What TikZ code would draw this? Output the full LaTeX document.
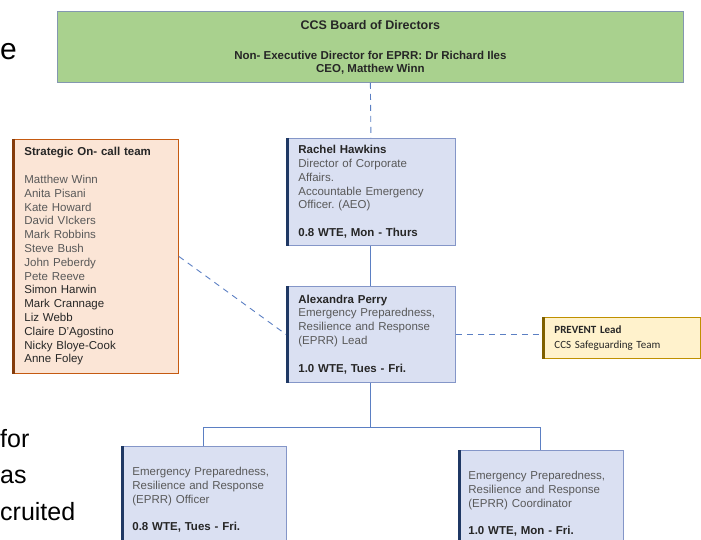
\documentclass[tikz,border=0pt]{standalone}
\usepackage{fontspec}
\setmainfont{Liberation Sans}
\newfontfamily\calibri{Carlito}
\frenchspacing

\definecolor{bluefill}{HTML}{DAE0F2}
\definecolor{blueedge}{HTML}{8496C8}
\definecolor{bluebar}{HTML}{1F3864}
\definecolor{linkblue}{HTML}{5B7FC3}
\definecolor{greenfill}{HTML}{A9D18E}
\definecolor{greenedge}{HTML}{8497B0}
\definecolor{peachfill}{HTML}{FBE5D6}
\definecolor{peachedge}{HTML}{C55A11}
\definecolor{peachbar}{HTML}{843C0C}
\definecolor{yellowfill}{HTML}{FFF2CC}
\definecolor{yellowedge}{HTML}{BF9000}
\definecolor{yellowbar}{HTML}{7F6000}
\definecolor{darktxt}{HTML}{262626}
\definecolor{greytxt}{HTML}{595959}

\begin{document}
\begin{tikzpicture}[x=1pt, y=-1pt,
    every node/.style={font=\fontsize{11.5}{13.8}\selectfont, text=greytxt},
    rolebox/.style={draw=blueedge, fill=bluefill, line width=0.8pt, anchor=north west,
        align=left, inner xsep=12pt, inner ysep=0pt, minimum height=107pt},
    linksolid/.style={draw=linkblue, line width=0.9pt},
    linkdash/.style={draw=linkblue, line width=0.9pt, dash pattern=on 6pt off 5pt},
    slidetxt/.style={anchor=base west, inner sep=0pt, text=black, font=\fontsize{25}{30}\selectfont}]
        \useasboundingbox (0,0) rectangle (701,540);

        % Slide text behind
        \node[slidetxt, font=\fontsize{30}{36}\selectfont] (sa) at (0,60) {e};
        \node[slidetxt] (sb) at (0,447) {for};
        \node[slidetxt] (sc) at (0,483) {as};
        \node[slidetxt] (sd) at (0,520) {cruited};

        % Board
        \node[draw=greenedge, fill=greenfill, line width=0.8pt, anchor=north west,
            minimum width=626pt, minimum height=71pt, align=center, text=darktxt,
            font=\bfseries\fontsize{11.5}{13}\selectfont] (board) at (57,11)
            {{\fontsize{12.5}{13}\selectfont CCS Board of Directors}\\[17pt]
             Non- Executive Director for EPRR: Dr Richard Iles\\
             CEO, Matthew Winn};

        % Roles
        \node[rolebox, text width=145pt] (rachel) at (286,138)
            {\textcolor{darktxt}{\bfseries Rachel Hawkins}\\
             Director of Corporate\\ Affairs.\\ Accountable Emergency\\ Officer. (AEO)\\[13.8pt]
             \textcolor{darktxt}{\bfseries 0.8 WTE, Mon - Thurs}};
        \node[rolebox, text width=145pt, minimum height=96pt] (alex) at (286,286)
            {\textcolor{darktxt}{\bfseries Alexandra Perry}\\
             Emergency Preparedness,\\ Resilience and Response\\ (EPRR) Lead\\[13.8pt]
             \textcolor{darktxt}{\bfseries 1.0 WTE, Tues - Fri.}};
        \node[rolebox, text width=143pt, inner xsep=11pt] (officer) at (121,446)
            {Emergency Preparedness,\\ Resilience and Response\\ (EPRR) Officer\\[13.8pt]
             \textcolor{darktxt}{\bfseries 0.8 WTE, Tues - Fri.}};
        \node[rolebox, text width=145pt, inner xsep=10pt] (coord) at (458,450)
            {Emergency Preparedness,\\ Resilience and Response\\ (EPRR) Coordinator\\[13.8pt]
             \textcolor{darktxt}{\bfseries 1.0 WTE, Mon - Fri.}};

        % On-call team
        \node[draw=peachedge, fill=peachfill, line width=0.8pt, anchor=north west,
            align=left, inner xsep=12pt, text width=142pt, minimum height=234pt] (oncall) at (12,139)
            {\textcolor{darktxt}{\bfseries Strategic On- call team}\\[13.8pt]
             Matthew Winn\\ Anita Pisani\\ Kate Howard\\ David VIckers\\ Mark Robbins\\
             Steve Bush\\ John Peberdy\\ Pete Reeve\\
             \color{darktxt}Simon Harwin\\ Mark Crannage\\ Liz Webb\\ Claire D'Agostino\\
             Nicky Bloye-Cook\\ Anne Foley};
        \draw[line width=3pt, draw=peachbar] ([xshift=1.5pt]oncall.north west) -- ([xshift=1.5pt]oncall.south west);

        % PREVENT
        \node[draw=yellowedge, fill=yellowfill, line width=0.8pt, anchor=north west,
            align=left, inner xsep=12pt, text width=134pt, minimum height=41pt,
            font=\calibri\fontsize{11}{15}\selectfont, text=darktxt] (prevent) at (542,317)
            {{\bfseries PREVENT Lead}\\ CCS Safeguarding Team};
        \draw[line width=3pt, draw=yellowbar] ([xshift=1.5pt]prevent.north west) -- ([xshift=1.5pt]prevent.south west);

        % Bars
        \foreach \n in {rachel, alex, officer, coord}
            \draw[line width=3pt, draw=bluebar] ([xshift=1.5pt]\n.north west) -- ([xshift=1.5pt]\n.south west);

        % Links
        \draw[linkdash] (board.south) -- (rachel.north);
        \draw[linksolid] (rachel.south) -- (alex.north);
        \draw[linkdash] (oncall.east) -- (alex.west);
        \draw[linkdash] (alex.east) -- (alex.east -| prevent.west);
        \draw[linksolid] (alex.south) -- ++(0,45) coordinate (split);
        \draw[linksolid] (split) -| (officer.north);
        \draw[linksolid] (split) -| (coord.north);

\end{tikzpicture}
\end{document}
